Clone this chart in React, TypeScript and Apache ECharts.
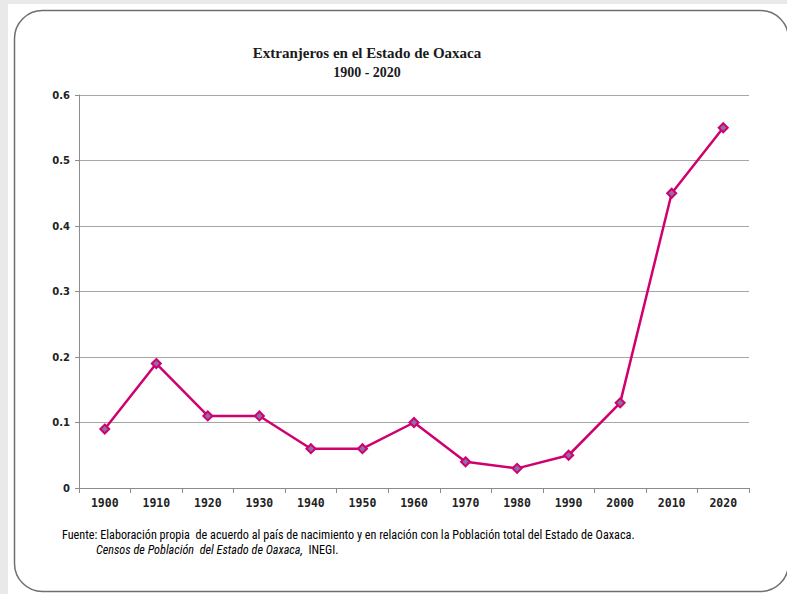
import React, { useEffect, useRef } from "react";
import * as echarts from "echarts";

const years = ["1900", "1910", "1920", "1930", "1940", "1950", "1960", "1970", "1980", "1990", "2000", "2010", "2020"];
const extranjeros = [0.09, 0.19, 0.11, 0.11, 0.06, 0.06, 0.1, 0.04, 0.03, 0.05, 0.13, 0.45, 0.55];
const yTicks = [0, 0.1, 0.2, 0.3, 0.4, 0.5, 0.6];

const titleLine1 = "Extranjeros en el Estado de Oaxaca";
const titleLine2 = "1900 - 2020";
const sourceLine1 = "Fuente: Elaboración propia  de acuerdo al país de nacimiento y en relación con la Población total del Estado de Oaxaca.";
const sourceItalic = "Censos de Población  del Estado de Oaxaca,";
const sourceEnd = "INEGI.";

export default function App() {
  const ref = useRef<HTMLDivElement>(null);
  useEffect(() => {
    document.body.style.margin = "0";
    const chart = echarts.init(ref.current!, null, { renderer: "svg" });
    const footFont = "'Liberation Sans Narrow', 'Roboto Condensed', 'Liberation Sans', sans-serif";
    chart.setOption({
      animation: false,
      backgroundColor: "#e9e9e9",
      graphic: [
        { type: "rect", z: -10, shape: { x: 8, y: 4, width: 779, height: 590 }, style: { fill: "#ffffff" }, silent: true },
        { type: "rect", z: -9, shape: { x: 14.5, y: 10.5, width: 774, height: 581, r: 28 }, style: { fill: "#ffffff", stroke: "#6f6f6f", lineWidth: 1.5 }, silent: true },
        { type: "text", style: { text: titleLine1, x: 367, y: 45, textAlign: "center", font: "bold 15px 'Liberation Serif', serif", fill: "#1a1a1a" } },
        { type: "text", style: { text: titleLine2, x: 367, y: 65, textAlign: "center", font: "bold 14px 'Liberation Serif', serif", fill: "#1a1a1a" } },
        { type: "text", style: { text: sourceLine1, x: 62, y: 529, font: `12.2px ${footFont}`, fill: "#000" } },
        {
          type: "text",
          style: {
            text: `{i|${sourceItalic}}{n|  ${sourceEnd}}`,
            x: 96,
            y: 544,
            fill: "#000",
            rich: {
              i: { fontFamily: footFont, fontSize: 12.2, fontStyle: "italic", fill: "#000", color: "#000" },
              n: { fontFamily: footFont, fontSize: 12.2, fill: "#000", color: "#000" },
            },
          },
        },
      ],
      grid: { left: 79, right: 38, top: 95, bottom: 106, containLabel: false },
      xAxis: {
        type: "category",
        data: years,
        boundaryGap: true,
        axisLine: { lineStyle: { color: "#8c8c8c", width: 1 } },
        axisTick: { show: true, length: 5, lineStyle: { color: "#8c8c8c" } },
        axisLabel: { color: "#222", fontFamily: "'DejaVu Sans Mono', monospace", fontWeight: "bold", fontSize: 11.5, margin: 9 },
        splitLine: { show: false },
      },
      yAxis: {
        type: "value",
        min: 0,
        max: 0.6,
        interval: 0.1,
        axisLine: { show: true, lineStyle: { color: "#8c8c8c", width: 1 } },
        axisTick: { show: true, length: 4, lineStyle: { color: "#8c8c8c" } },
        axisLabel: {
          color: "#222",
          fontFamily: "'DejaVu Sans', sans-serif",
          fontWeight: "bold",
          fontSize: 10,
          margin: 9,
          formatter: (v: number) => {
            const t = yTicks.find((x) => Math.abs(x - v) < 1e-9);
            return t === 0 ? "0" : String(Number((t ?? v).toFixed(1)));
          },
        },
        splitLine: { show: true, lineStyle: { color: "#a6a6a6", width: 1 } },
      },
      series: [
        {
          type: "line",
          data: extranjeros,
          symbol: "diamond",
          symbolSize: 9,
          lineStyle: { color: "#d1006f", width: 2.5 },
          itemStyle: { color: "#8a6fa8", borderColor: "#d1006f", borderWidth: 2 },
        },
      ],
    });
    return () => chart.dispose();
  }, []);
  return <div ref={ref} style={{ width: 787, height: 594 }} />;
}
